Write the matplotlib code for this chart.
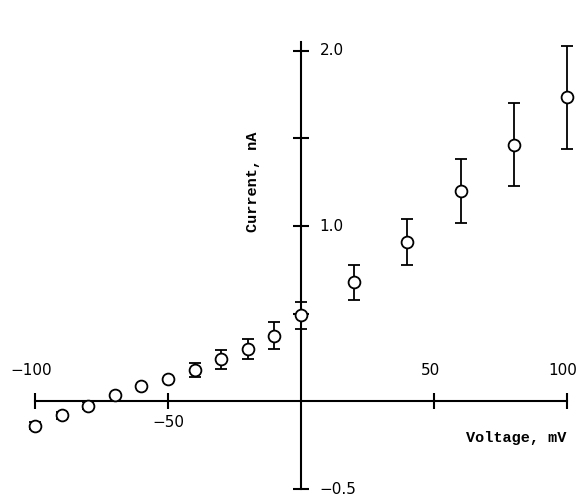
import matplotlib
matplotlib.use("Agg")
import matplotlib.pyplot as plt
import numpy as np

# voltage (mV) vs current (nA), with error bars
voltage = [-100, -90, -80, -70, -60, -50, -40, -30, -20, -10, 0, 20, 40, 60, 80, 100]
current = [-0.14, -0.08, -0.025, 0.035, 0.09, 0.125, 0.18, 0.24, 0.30, 0.375, 0.49, 0.68, 0.91, 1.20, 1.465, 1.735]
err = [0.02, 0.02, 0.02, 0.0, 0.0, 0.0, 0.04, 0.055, 0.057, 0.077, 0.075, 0.10, 0.13, 0.18, 0.235, 0.295]

xticks = [-100, -50, 50, 100]
xlabels_above = [True, False, True, True]
yticks = [-0.5, 0.5, 1.0, 1.5, 2.0]
ylabels = {2.0: "2.0", 1.0: "1.0", -0.5: "-0.5"}

fig = plt.figure(figsize=(5.78, 4.95), dpi=100)
ax = fig.add_axes([0.0606, 0.0121, 0.9204, 0.903])

ax.errorbar(voltage, current, yerr=err, fmt="o", color="black", mfc="white",
            mec="black", ms=8.5, mew=1.3, elinewidth=1.3, capsize=4, capthick=1.3,
            clip_on=False, zorder=3)

ax.set_xlim(-100, 100)
ax.set_ylim(-0.5, 2.05)

for side in ["top", "right"]:
    ax.spines[side].set_visible(False)
ax.spines["left"].set_position(("data", 0))
ax.spines["bottom"].set_position(("data", 0))
ax.spines["left"].set_linewidth(1.5)
ax.spines["bottom"].set_linewidth(1.5)

ax.set_xticks(xticks)
ax.set_yticks(yticks)
ax.set_xticklabels([])
ax.set_yticklabels([])
ax.tick_params(direction="inout", length=12, width=1.5)

tick_font = dict(family="DejaVu Sans", fontsize=11)
for x, above in zip(xticks, xlabels_above):
    if above:
        ax.text(x - 1.5, 0.175, "%d" % x if x > 0 else "\u2212%d" % -x,
                ha="center", va="center", **tick_font)
    else:
        ax.text(x, -0.12, "\u2212%d" % -x, ha="center", va="center", **tick_font)

for y, lab in ylabels.items():
    ax.text(7, y, lab.replace("-", "\u2212"), ha="left", va="center", **tick_font)

label_font = dict(family="Liberation Mono", fontsize=11, fontweight="bold")
ax.text(-18, 1.25, "Current, nA", rotation=90, ha="center", va="center", **label_font)
ax.text(81, -0.21, "Voltage, mV", ha="center", va="center", **label_font)

fig.savefig("out.png", dpi=100)
